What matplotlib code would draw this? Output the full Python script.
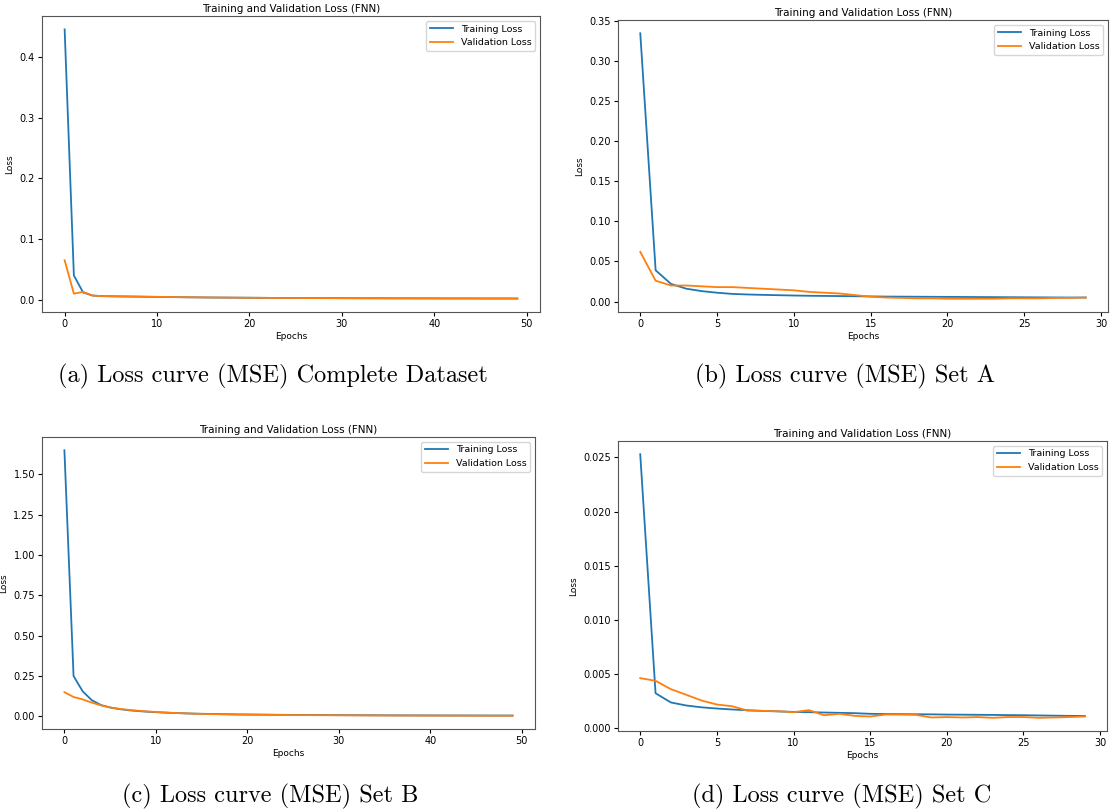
import matplotlib
matplotlib.use("Agg")
import matplotlib.pyplot as plt

# per-epoch MSE losses for the four runs
full_train = [0.445, 0.040, 0.012, 0.007, 0.006, 0.0057, 0.0055, 0.0053, 0.0051, 0.0049,
              0.0047, 0.0045, 0.0043, 0.0041, 0.0040, 0.0038, 0.0037, 0.0036, 0.0035, 0.0034,
              0.0033, 0.0032, 0.0031, 0.0030, 0.0030, 0.0029, 0.0028, 0.0028, 0.0027, 0.0027,
              0.0026, 0.0026, 0.0025, 0.0025, 0.0025, 0.0024, 0.0024, 0.0024, 0.0023, 0.0023,
              0.0023, 0.0022, 0.0022, 0.0022, 0.0022, 0.0021, 0.0021, 0.0021, 0.0021, 0.0020]
full_val = [0.065, 0.010, 0.013, 0.007, 0.006, 0.0058, 0.0056, 0.0054, 0.0052, 0.0050,
            0.0048, 0.0046, 0.0044, 0.0042, 0.0040, 0.0039, 0.0037, 0.0036, 0.0035, 0.0034,
            0.0033, 0.0032, 0.0031, 0.0030, 0.0029, 0.0029, 0.0028, 0.0027, 0.0027, 0.0026,
            0.0026, 0.0025, 0.0025, 0.0024, 0.0024, 0.0024, 0.0023, 0.0023, 0.0023, 0.0022,
            0.0022, 0.0022, 0.0021, 0.0021, 0.0021, 0.0021, 0.0020, 0.0020, 0.0020, 0.0020]

a_train = [0.335, 0.039, 0.022, 0.016, 0.013, 0.011, 0.0095, 0.0088, 0.0083, 0.0079,
           0.0075, 0.0072, 0.0070, 0.0068, 0.0066, 0.0064, 0.0062, 0.0061, 0.0060, 0.0059,
           0.0058, 0.0057, 0.0056, 0.0055, 0.0054, 0.0053, 0.0052, 0.0051, 0.0050, 0.0050]
a_val = [0.062, 0.026, 0.020, 0.020, 0.019, 0.018, 0.018, 0.017, 0.016, 0.015,
         0.014, 0.012, 0.011, 0.010, 0.008, 0.006, 0.005, 0.0045, 0.0040, 0.0040,
         0.0035, 0.0035, 0.0035, 0.0035, 0.0040, 0.0040, 0.0040, 0.0045, 0.0045, 0.0050]

b_train = [1.65, 0.25, 0.155, 0.100, 0.070, 0.055, 0.045, 0.038, 0.033, 0.029,
           0.026, 0.023, 0.021, 0.019, 0.017, 0.016, 0.015, 0.014, 0.013, 0.012,
           0.0115, 0.011, 0.0105, 0.010, 0.0095, 0.009, 0.0087, 0.0084, 0.0081, 0.0078,
           0.0075, 0.0072, 0.0070, 0.0068, 0.0066, 0.0064, 0.0062, 0.0060, 0.0059, 0.0058,
           0.0057, 0.0056, 0.0055, 0.0054, 0.0053, 0.0052, 0.0051, 0.0050, 0.0050, 0.0049]
b_val = [0.150, 0.120, 0.105, 0.085, 0.068, 0.055, 0.047, 0.040, 0.035, 0.031,
         0.027, 0.024, 0.021, 0.019, 0.017, 0.015, 0.014, 0.013, 0.012, 0.011,
         0.0105, 0.010, 0.0095, 0.009, 0.0085, 0.008, 0.0077, 0.0074, 0.0071, 0.0068,
         0.0065, 0.0062, 0.0060, 0.0058, 0.0056, 0.0054, 0.0052, 0.0050, 0.0049, 0.0048,
         0.0047, 0.0046, 0.0045, 0.0044, 0.0043, 0.0042, 0.0041, 0.0040, 0.0040, 0.0039]

c_train = [0.0253, 0.0032, 0.00235, 0.00207, 0.0019, 0.00179, 0.0017, 0.00163, 0.00157, 0.00152,
           0.00148, 0.00145, 0.00142, 0.00139, 0.00136, 0.0013, 0.00128, 0.00127, 0.00126, 0.00125,
           0.00123, 0.00122, 0.00121, 0.0012, 0.00118, 0.00117, 0.00115, 0.00113, 0.00111, 0.0011]
c_val = [0.0046, 0.00435, 0.00358, 0.00306, 0.00253, 0.00216, 0.0020, 0.0016, 0.00157, 0.00154,
         0.00145, 0.00164, 0.00117, 0.0013, 0.00111, 0.00105, 0.00123, 0.00123, 0.0012, 0.00096,
         0.0010, 0.00096, 0.0010, 0.00093, 0.0010, 0.0010, 0.00093, 0.00096, 0.0010, 0.00105]

captions = ["(a) Loss curve (MSE) Complete Dataset", "(b) Loss curve (MSE) Set A",
            "(c) Loss curve (MSE) Set B", "(d) Loss curve (MSE) Set C"]

W, H = 1110, 811
fig = plt.figure(figsize=(W / 100, H / 100), dpi=100)

# axes boxes in pixels: left, top, right, bottom
boxes = [(42, 16, 540, 312), (618, 20, 1108, 312),
         (42, 437, 535, 729), (618, 441, 1107, 731)]
series = [(full_train, full_val), (a_train, a_val), (b_train, b_val), (c_train, c_val)]
cap_pos = [(273, 376), (845, 376), (270, 796), (842, 796)]

for (l, t, r, b), (tr, va), cap, (cx, cy) in zip(boxes, series, captions, cap_pos):
    ax = fig.add_axes([l / W, 1 - b / H, (r - l) / W, (b - t) / H])
    ax.plot(range(len(tr)), tr, color="#1f77b4", lw=1.3, label="Training Loss")
    ax.plot(range(len(va)), va, color="#ff7f0e", lw=1.3, label="Validation Loss")
    ax.set_title("Training and Validation Loss (FNN)", fontsize=7.5, pad=3)
    ax.set_xlabel("Epochs", fontsize=6.5, labelpad=2)
    ax.set_ylabel("Loss", fontsize=6.5, labelpad=4)
    ax.tick_params(labelsize=7, length=3, pad=2)
    for s in ax.spines.values():
        s.set_color("#555555")
    ax.legend(fontsize=6.8, loc="upper right", handlelength=2.5)
    fig.text(cx / W, 1 - cy / H, cap, fontsize=17.5, family="cmr10",
             ha="center", va="center")

fig.savefig("out.png", dpi=100)
